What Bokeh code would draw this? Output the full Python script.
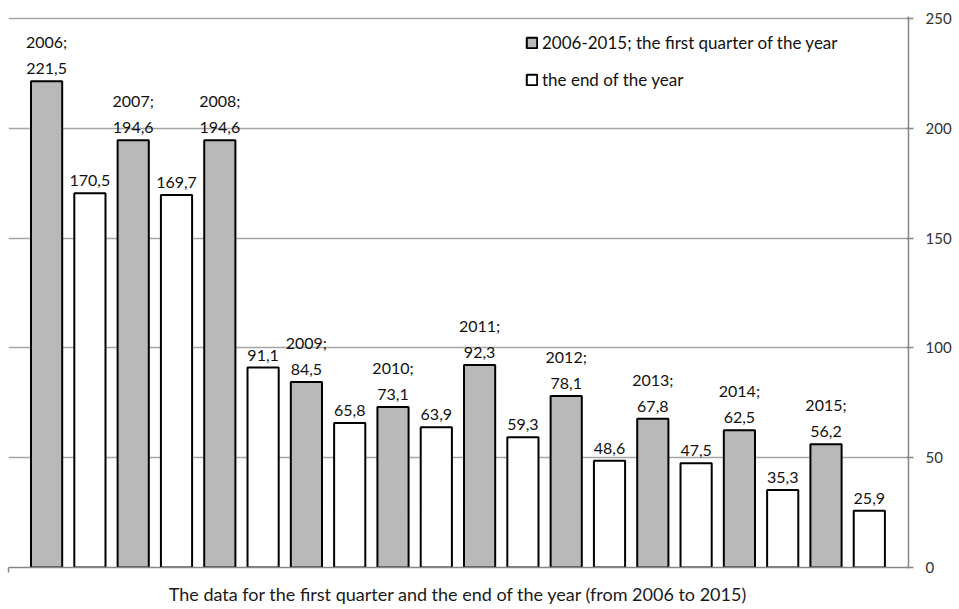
from bokeh.plotting import figure
from bokeh.models import ColumnDataSource, Legend, LegendItem, FixedTicker, Range1d, LinearAxis
from bokeh.core.properties import value
from bokeh.embed import file_html
from bokeh.resources import INLINE

years = ["2006", "2007", "2008", "2009", "2010", "2011", "2012", "2013", "2014", "2015"]
first_quarter = [221.5, 194.6, 194.6, 84.5, 73.1, 92.3, 78.1, 67.8, 62.5, 56.2]
end_of_year = [170.5, 169.7, 91.1, 65.8, 63.9, 59.3, 48.6, 47.5, 35.3, 25.9]
y_ticks = [0, 50, 100, 150, 200, 250]
x_title = "The data for the first quarter and the end of the year (from 2006 to 2015)"
legend_labels = ["2006-2015; the first quarter of the year", "the end of the year"]

FONT = "Lato"
X0 = -0.88

def fmt(v):
    return f"{v:.1f}".replace(".", ",")

q_src = ColumnDataSource(dict(
    x=[2 * i for i in range(len(years))],
    top=first_quarter,
    val=[fmt(v) for v in first_quarter],
    yr=[y + ";" for y in years],
))
e_src = ColumnDataSource(dict(
    x=[2 * i + 1 for i in range(len(years))],
    top=end_of_year,
    val=[fmt(v) for v in end_of_year],
))

p = figure(frame_width=900, frame_height=551, output_backend="svg", toolbar_location=None,
           x_range=Range1d(X0, 19.905), y_range=Range1d(0, 251),
           min_border_left=8, min_border_top=16, min_border_right=0, min_border_bottom=0,
           y_axis_location=None)
p.outline_line_color = None
p.background_fill_color = "white"

yaxis = LinearAxis(ticker=FixedTicker(ticks=y_ticks))
yaxis.axis_line_color = "#868686"
yaxis.axis_line_width = 1.5
yaxis.major_tick_line_color = "#868686"
yaxis.major_tick_line_width = 1.5
yaxis.major_tick_out = 5
yaxis.major_tick_in = 2
yaxis.minor_tick_line_color = None
yaxis.major_label_text_font = FONT
yaxis.major_label_text_font_size = "15px"
yaxis.major_label_text_color = "#333333"
yaxis.major_label_standoff = 12
p.add_layout(yaxis, "right")

p.xaxis.ticker = FixedTicker(ticks=[X0])
p.xaxis.major_label_overrides = {X0: ""}
p.xaxis.axis_line_color = "#868686"
p.xaxis.axis_line_width = 1.5
p.xaxis.major_tick_line_color = "#868686"
p.xaxis.major_tick_line_width = 1.5
p.xaxis.major_tick_out = 5
p.xaxis.major_tick_in = 0
p.xaxis.minor_tick_line_color = None
p.xaxis.major_label_standoff = 0
p.xaxis.axis_label = x_title
p.xaxis.axis_label_text_font = FONT
p.xaxis.axis_label_text_font_size = "18px"
p.xaxis.axis_label_text_font_style = "normal"
p.xaxis.axis_label_text_color = "#1a1a1a"
p.xaxis.axis_label_standoff = 10

p.xgrid.grid_line_color = None
p.ygrid.ticker = FixedTicker(ticks=y_ticks[1:])
p.ygrid.grid_line_color = "#a6a6a6"
p.ygrid.grid_line_width = 1.5

rq = p.vbar(x="x", top="top", width=0.72, source=q_src, fill_color="#b9b9b9",
            line_color="black", line_width=2)
re_ = p.vbar(x="x", top="top", width=0.72, source=e_src, fill_color="white",
             line_color="black", line_width=2)

common = dict(text_align="center", text_baseline="bottom", text_font=value(FONT),
              text_font_size="16px", text_color="#111111")
p.text(x="x", y="top", text="val", source=q_src, y_offset=-7, **common)
p.text(x="x", y="top", text="yr", source=q_src, y_offset=-30, **common)
p.text(x="x", y="top", text="val", source=e_src, y_offset=-7, **common)

legend = Legend(items=[LegendItem(label=legend_labels[0], renderers=[rq]),
                       LegendItem(label=legend_labels[1], renderers=[re_])],
                location=(517, 477))
legend.border_line_color = None
legend.background_fill_alpha = 0
legend.padding = 0
legend.margin = 0
legend.spacing = 16
legend.label_height = 20
legend.glyph_width = 13
legend.glyph_height = 13
legend.label_standoff = 4
legend.label_text_font = FONT
legend.label_text_font_size = "17px"
legend.label_text_color = "#111111"
p.add_layout(legend, "center")

open("out.html", "w").write(file_html(p, INLINE))
